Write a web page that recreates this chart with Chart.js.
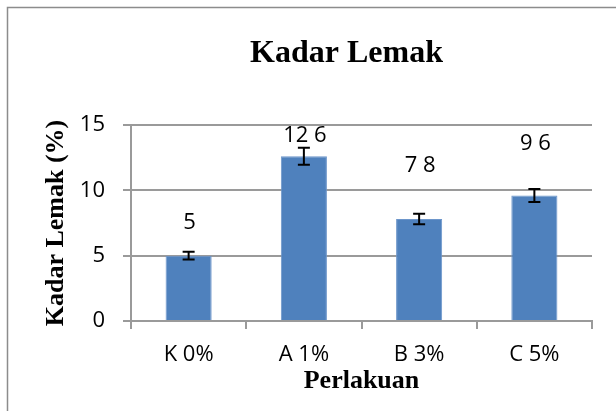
<!DOCTYPE html>
<html>
<head>
<meta charset="utf-8">
<title>Kadar Lemak</title>
<script src="https://cdn.jsdelivr.net/npm/chart.js@4.4.1/dist/chart.umd.min.js"></script>
<style>
  html, body { margin: 0; padding: 0; background: #fff; }
  #wrap { width: 616px; height: 411px; }
</style>
</head>
<body>
<div id="wrap"><canvas id="fatChart" width="616" height="411"></canvas></div>
<script>
// Chart data
const categories = ['K 0%', 'A 1%', 'B 3%', 'C 5%'];
const fatValues = [5.0, 12.6, 7.8, 9.6];
const fatErrors = [0.3, 0.65, 0.4, 0.5];
const valueLabels = ['5', '12 6', '7 8', '9 6'];
const yTicks = [0, 5, 10, 15];
const chartTitle = 'Kadar Lemak';

const gridGray = '#9a9a9a';
const tickFont = { family: "'Open Sans', sans-serif", size: 22 };
const serifBold = "'Liberation Serif', 'Times New Roman', serif";

// Draws the outer frame (left and top edges only are visible) and the title
const framePlugin = {
    id: 'frame',
    beforeDraw(chart) {
        const ctx = chart.ctx;
        const area = chart.chartArea;
        ctx.save();
        ctx.fillStyle = '#fff';
        ctx.fillRect(0, 0, chart.width, chart.height);
        ctx.strokeStyle = '#8c8c8c';
        ctx.lineWidth = 1.5;
        ctx.beginPath();
        ctx.moveTo(7.5, chart.height);
        ctx.lineTo(7.5, 7.5);
        ctx.lineTo(chart.width, 7.5);
        ctx.stroke();
        // title sits a little left of the plot centre, as in the original
        ctx.fillStyle = '#000';
        ctx.font = 'bold 32px ' + serifBold;
        ctx.textAlign = 'center';
        ctx.textBaseline = 'alphabetic';
        ctx.fillText(chartTitle, (area.left + area.right) / 2 - 15, 62);
        ctx.restore();
    }
};

// Draws error bars and the value labels above each bar
const barExtrasPlugin = {
    id: 'barExtras',
    afterDatasetsDraw(chart, args, opts) {
        const ctx = chart.ctx;
        const yScale = chart.scales.y;
        const meta = chart.getDatasetMeta(0);
        ctx.save();
        ctx.strokeStyle = '#000';
        ctx.lineWidth = 2;
        meta.data.forEach((bar, i) => {
            const top = yScale.getPixelForValue(fatValues[i] + fatErrors[i]);
            const bottom = yScale.getPixelForValue(fatValues[i] - fatErrors[i]);
            const cap = 6;
            ctx.beginPath();
            ctx.moveTo(bar.x, top);
            ctx.lineTo(bar.x, bottom);
            ctx.moveTo(bar.x - cap, top);
            ctx.lineTo(bar.x + cap, top);
            ctx.moveTo(bar.x - cap, bottom);
            ctx.lineTo(bar.x + cap, bottom);
            ctx.stroke();
        });
        ctx.fillStyle = '#000';
        ctx.font = tickFont.size + 'px ' + tickFont.family;
        ctx.textAlign = 'center';
        ctx.textBaseline = 'middle';
        meta.data.forEach((bar, i) => {
            const y = yScale.getPixelForValue(opts.levels[i]);
            ctx.fillText(valueLabels[i], bar.x + 1, y);
        });
        ctx.restore();
    }
};

Chart.defaults.color = '#000';

new Chart(document.getElementById('fatChart'), {
    type: 'bar',
    data: {
        labels: categories,
        datasets: [{
            data: fatValues,
            backgroundColor: '#4F81BD',
            borderColor: '#6d96cb',
            borderWidth: 1,
            barPercentage: 0.4,
            categoryPercentage: 1.0
        }]
    },
    options: {
        responsive: false,
        animation: false,
        devicePixelRatio: 1,
        layout: { padding: { top: 125, left: 0, right: 24, bottom: 0 } },
        plugins: {
            legend: { display: false },
            tooltip: { enabled: false },
            title: { display: false },
            barExtras: { levels: [7.5, 14.2, 11.9, 13.6] }
        },
        scales: {
            x: {
                offset: true,
                grid: {
                    offset: true,
                    drawOnChartArea: false,
                    drawTicks: true,
                    tickLength: 8,
                    color: gridGray,
                    lineWidth: 2
                },
                border: { display: true, color: gridGray, width: 2 },
                ticks: { font: tickFont, color: '#000', padding: 13, maxRotation: 0 },
                title: {
                    display: true,
                    text: 'Perlakuan',
                    color: '#000',
                    font: { family: serifBold, size: 26, weight: 'bold' },
                    padding: { top: 0, bottom: 14 }
                },
                afterFit(scale) { scale.height = 90; }
            },
            y: {
                min: 0,
                max: 15,
                afterBuildTicks(scale) {
                    scale.ticks = yTicks.map(v => ({ value: v }));
                },
                grid: {
                    color: gridGray,
                    lineWidth: 2,
                    drawTicks: true,
                    tickLength: 8
                },
                border: { display: true, color: gridGray, width: 2 },
                ticks: { font: tickFont, color: '#000', padding: 18 },
                title: {
                    display: true,
                    text: 'Kadar Lemak (%)',
                    color: '#000',
                    font: { family: serifBold, size: 26, weight: 'bold' },
                    padding: { top: 41, bottom: 0 }
                },
                afterFit(scale) { scale.width = 131; }
            }
        }
    },
    plugins: [framePlugin, barExtrasPlugin]
});
</script>
</body>
</html>
